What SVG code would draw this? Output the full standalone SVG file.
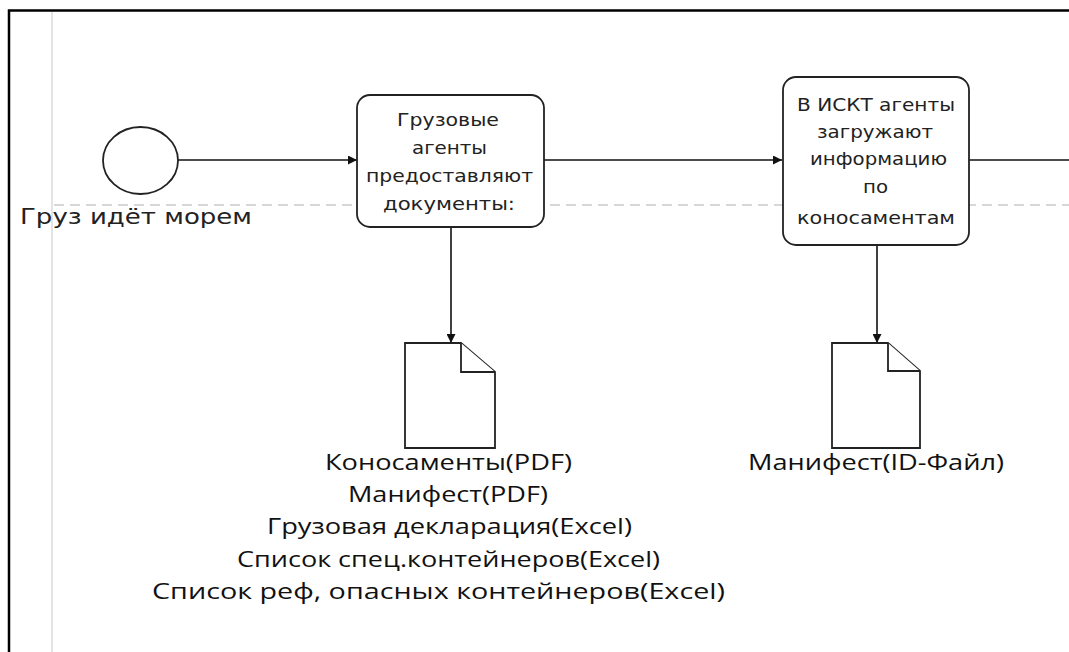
<svg xmlns="http://www.w3.org/2000/svg" width="1069" height="652" viewBox="0 0 1069 652">
<style>
.frame{fill:none;stroke:#000;stroke-width:2.5}
.lane{fill:none;stroke:#e4e4e4;stroke-width:2}
.sep{fill:none;stroke:#b0b0b0;stroke-width:1.2;stroke-dasharray:10 6}
.shape{fill:#fff;stroke:#222;stroke-width:1.8}
.edge{fill:none;stroke:#111;stroke-width:1.6}
.tb{font-family:"DejaVu Sans",sans-serif;font-size:18px;fill:#222;text-anchor:middle}
.tl{font-family:"Open Sans","Liberation Sans",sans-serif;font-size:21px;fill:#111;text-anchor:middle}
.ev{font-family:"DejaVu Sans",sans-serif;font-size:21px;fill:#222}
</style>
<defs>
<marker id="arr" viewBox="0 0 10 10" refX="10" refY="5" markerWidth="10" markerHeight="9" orient="auto" markerUnits="userSpaceOnUse">
<path d="M0,0 L10,5 L0,10 z" fill="#111"/>
</marker>
</defs>
<rect width="1069" height="652" fill="#fff"/>
<path class="frame" d="M9,652 V10.5 H1069"/>
<line class="lane" x1="52" y1="12" x2="52" y2="652"/>
<line class="sep" x1="54" y1="205" x2="1069" y2="205"/>

<g id="connectors">
<line class="edge" x1="178" y1="160" x2="357" y2="160" marker-end="url(#arr)"/>
<line class="edge" x1="544" y1="160" x2="782" y2="160" marker-end="url(#arr)"/>
<line class="edge" x1="969" y1="160" x2="1069" y2="160"/>
<line class="edge" x1="451" y1="227" x2="451" y2="343" marker-end="url(#arr)"/>
<line class="edge" x1="877" y1="245" x2="877" y2="343" marker-end="url(#arr)"/>
</g>

<g id="start">
<ellipse class="shape" cx="140.5" cy="160.5" rx="37.5" ry="33.5"/>
<text class="ev" x="20" y="224" textLength="232" lengthAdjust="spacingAndGlyphs">Груз идёт морем</text>
</g>

<g id="task1">
<rect class="shape" x="357" y="95" width="187" height="132" rx="13"/>
<text class="tb" x="448" y="126" textLength="102" lengthAdjust="spacingAndGlyphs">Грузовые</text>
<text class="tb" x="449.5" y="154" textLength="75" lengthAdjust="spacingAndGlyphs">агенты</text>
<text class="tb" x="449.5" y="182" textLength="167" lengthAdjust="spacingAndGlyphs">предоставляют</text>
<text class="tb" x="449" y="210" textLength="132" lengthAdjust="spacingAndGlyphs">документы:</text>
</g>

<g id="task2">
<rect class="shape" x="783" y="77" width="186" height="168" rx="13"/>
<text class="tb" x="876" y="111" textLength="158" lengthAdjust="spacingAndGlyphs">В ИСКТ агенты</text>
<text class="tb" x="875" y="138" textLength="116" lengthAdjust="spacingAndGlyphs">загружают</text>
<text class="tb" x="878.5" y="165" textLength="137" lengthAdjust="spacingAndGlyphs">информацию</text>
<text class="tb" x="875.5" y="193" textLength="25" lengthAdjust="spacingAndGlyphs">по</text>
<text class="tb" x="876" y="224" textLength="158" lengthAdjust="spacingAndGlyphs">коносаментам</text>
</g>

<g id="doc1">
<path class="shape" d="M405,343 H461 L495,372 V448 H405 Z"/>
<path class="shape" d="M461,343 V372 H495" fill="none"/>
<text class="tl" x="448.5" y="470" textLength="247" lengthAdjust="spacingAndGlyphs">Коносаменты(PDF)</text>
<text class="tl" x="448" y="502" textLength="200" lengthAdjust="spacingAndGlyphs">Манифест(PDF)</text>
<text class="tl" x="449.5" y="534" textLength="365" lengthAdjust="spacingAndGlyphs">Грузовая декларация(Excel)</text>
<text class="tl" x="448.5" y="567" textLength="423" lengthAdjust="spacingAndGlyphs">Список спец.контейнеров(Excel)</text>
<text class="tl" x="438.5" y="599" textLength="573" lengthAdjust="spacingAndGlyphs">Список реф, опасных контейнеров(Excel)</text>
</g>

<g id="doc2">
<path class="shape" d="M832,343 H888 L920,371 V448 H832 Z"/>
<path class="shape" d="M888,343 V371 H920" fill="none"/>
<text class="tl" x="876" y="470" textLength="256" lengthAdjust="spacingAndGlyphs">Манифест(ID-Файл)</text>
</g>
</svg>
